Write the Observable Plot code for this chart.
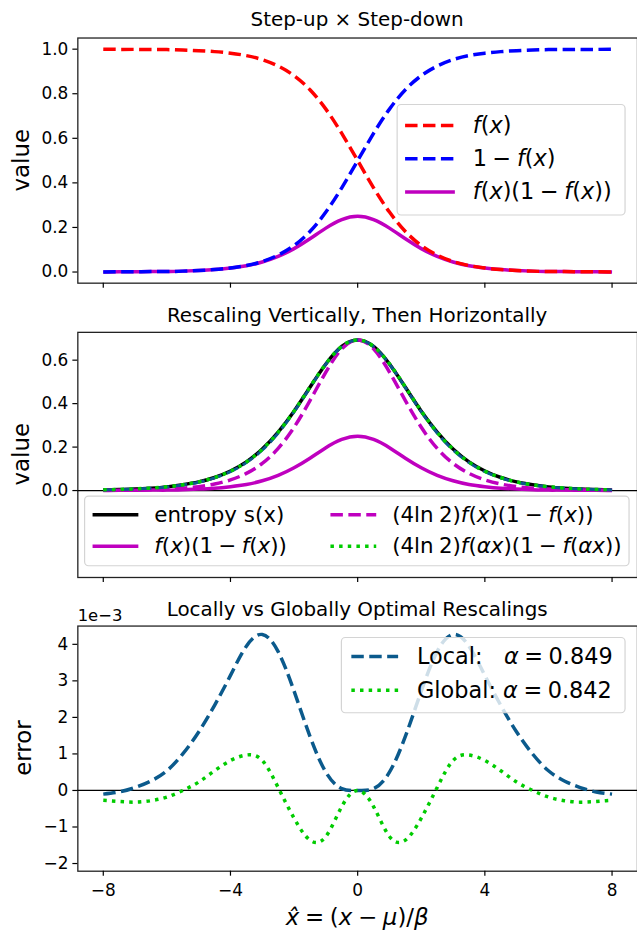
<!DOCTYPE html>
<html><head><meta charset="utf-8">
<script src="https://cdn.jsdelivr.net/npm/d3@7"></script>
<script src="https://cdn.jsdelivr.net/npm/@observablehq/plot@0.6"></script>
<style>
html,body{margin:0;padding:0;background:#fff;overflow:hidden;width:637px;height:938px;}
#chart{position:relative;width:637px;height:938px;overflow:hidden;}
#chart svg{display:block;}
</style></head><body><div id="chart"></div>
<script>
// ---------------- data ----------------
const xs = [-8, -7.5, -7, -6.5, -6, -5.5, -5, -4.5, -4, -3.5, -3, -2.5, -2, -1.5, -1, -0.5, 0,
            0.5, 1, 1.5, 2, 2.5, 3, 3.5, 4, 4.5, 5, 5.5, 6, 6.5, 7, 7.5, 8];
const xTicks = [-8, -4, 0, 4, 8];

// panel 1
const stepDown = [1.000, 0.999, 0.999, 0.998, 0.998, 0.996, 0.993, 0.989, 0.982, 0.971, 0.953, 0.924, 0.881, 0.818, 0.731, 0.622, 0.500,
                  0.378, 0.269, 0.182, 0.119, 0.076, 0.047, 0.029, 0.018, 0.011, 0.007, 0.004, 0.002, 0.002, 0.001, 0.001, 0.000];
const stepUp   = [0.000, 0.001, 0.001, 0.002, 0.002, 0.004, 0.007, 0.011, 0.018, 0.029, 0.047, 0.076, 0.119, 0.182, 0.269, 0.378, 0.500,
                  0.622, 0.731, 0.818, 0.881, 0.924, 0.953, 0.971, 0.982, 0.989, 0.993, 0.996, 0.998, 0.998, 0.999, 0.999, 1.000];
const product  = [0.000, 0.001, 0.001, 0.002, 0.002, 0.004, 0.007, 0.011, 0.018, 0.028, 0.045, 0.070, 0.105, 0.149, 0.197, 0.235, 0.250,
                  0.235, 0.197, 0.149, 0.105, 0.070, 0.045, 0.028, 0.018, 0.011, 0.007, 0.004, 0.002, 0.002, 0.001, 0.001, 0.000];
const y1Ticks = [0, 0.2, 0.4, 0.6, 0.8, 1.0];

// panel 2
const entropy  = [0.003, 0.005, 0.007, 0.011, 0.017, 0.027, 0.040, 0.060, 0.090, 0.132, 0.191, 0.269, 0.365, 0.475, 0.582, 0.663, 0.693,
                  0.663, 0.582, 0.475, 0.365, 0.269, 0.191, 0.132, 0.090, 0.060, 0.040, 0.027, 0.017, 0.011, 0.007, 0.005, 0.003];
const scaledProduct = [0.001, 0.002, 0.003, 0.004, 0.007, 0.011, 0.018, 0.030, 0.049, 0.079, 0.125, 0.194, 0.291, 0.414, 0.545, 0.652, 0.693,
                  0.652, 0.545, 0.414, 0.291, 0.194, 0.125, 0.079, 0.049, 0.030, 0.018, 0.011, 0.007, 0.004, 0.003, 0.002, 0.001];
const localApprox = [0.0031, 0.0047, 0.0072, 0.0110, 0.0168, 0.0255, 0.0386, 0.0582, 0.0870, 0.1285, 0.1867, 0.2648, 0.3626, 0.4737, 0.5818, 0.6628, 0.6931,
                  0.6628, 0.5818, 0.4737, 0.3626, 0.2648, 0.1867, 0.1285, 0.0870, 0.0582, 0.0386, 0.0255, 0.0168, 0.0110, 0.0072, 0.0047, 0.0031];
const globalApprox = [0.0033, 0.0050, 0.0076, 0.0115, 0.0175, 0.0265, 0.0400, 0.0600, 0.0893, 0.1314, 0.1901, 0.2684, 0.3661, 0.4765, 0.5835, 0.6633, 0.6931,
                  0.6633, 0.5835, 0.4765, 0.3661, 0.2684, 0.1901, 0.1314, 0.0893, 0.0600, 0.0400, 0.0265, 0.0175, 0.0115, 0.0076, 0.0050, 0.0033];
const y2Ticks = [0, 0.2, 0.4, 0.6];

// panel 3 (values in units of 1e-3)
const localErr  = [-0.10, -0.04, 0.08, 0.26, 0.54, 1.00, 1.60, 2.33, 3.15, 3.95, 4.27, 3.80, 2.72, 1.48, 0.50, 0.05, 0.00,
                   0.05, 0.50, 1.48, 2.72, 3.80, 4.27, 3.95, 3.15, 2.33, 1.60, 1.00, 0.54, 0.26, 0.08, -0.04, -0.10];
const globalErr = [-0.27, -0.30, -0.32, -0.28, -0.18, 0.00, 0.23, 0.54, 0.82, 0.97, 0.82, 0.08, -0.76, -1.36, -1.26, -0.44, 0.00,
                   -0.44, -1.26, -1.36, -0.76, 0.08, 0.82, 0.97, 0.82, 0.54, 0.23, 0.00, -0.18, -0.28, -0.32, -0.30, -0.27];
const y3Ticks = [-2, -1, 0, 1, 2, 3, 4];

// ---------------- styling ----------------
const FONT = "DejaVu Sans";
const RED = "#ff0000", BLUE = "#0000ff", MAGENTA = "#bf00bf", GREEN = "#00cc00", TEAL = "#0b5a8c";
const DASH = "12.5,5.5", DOT = "3.5,5.2";
const LW = 3.5;

const rows = xs.map((x, i) => ({
  x, stepDown: stepDown[i], stepUp: stepUp[i], product: product[i],
  entropy: entropy[i], scaledProduct: scaledProduct[i], localApprox: localApprox[i], globalApprox: globalApprox[i],
  localErr: localErr[i], globalErr: globalErr[i]
}));

const W = 640, ML = 77.7;
const common = {
  width: W, marginLeft: ML, marginRight: 0,
  x: {domain: [-8.8, 8.8]},
  style: {fontFamily: FONT, fontSize: "17px", color: "#000", background: "transparent", overflow: "visible"}
};
const frame = () => Plot.frame({stroke: "#222", strokeWidth: 1.3});
const axX = (labels) => Plot.axisX({ticks: xTicks, tickSize: 5, tickPadding: 8, strokeWidth: 1.2,
  tickFormat: labels ? d3.format("d") : () => "", label: null});
const axY = (ticks, fmt) => Plot.axisY({ticks, tickSize: 5, tickPadding: 4.5, strokeWidth: 1.2, tickFormat: fmt, label: null});
const ln = (y, stroke, dash, w = LW) => Plot.line(rows, {x: "x", y, stroke, strokeWidth: w, strokeDasharray: dash,
  strokeLinecap: "butt", strokeLinejoin: "round", curve: "natural"});

const p1 = Plot.plot({
  ...common, height: 300, marginTop: 37.7, marginBottom: 16,
  y: {domain: [-0.05, 1.05]},
  marks: [
    frame(), axX(false), axY(y1Ticks, d3.format(".1f")),
    ln("product", MAGENTA, null),
    ln("stepDown", RED, DASH),
    ln("stepUp", BLUE, DASH)
  ]
});
const p2 = Plot.plot({
  ...common, height: 300, marginTop: 33, marginBottom: 20.7,
  y: {domain: [-0.4, 0.728]},
  marks: [
    frame(), axX(false), axY(y2Ticks, d3.format(".1f")),
    Plot.ruleY([0], {stroke: "#000", strokeWidth: 1.3}),
    ln("entropy", "#000", null),
    ln("product", MAGENTA, null),
    ln("scaledProduct", MAGENTA, DASH),
    ln("localApprox", TEAL, DASH, 3),
    ln("globalApprox", GREEN, DOT)
  ]
});
const p3 = Plot.plot({
  ...common, height: 338, marginTop: 28.7, marginBottom: 63,
  y: {domain: [-2.21, 4.5]},
  marks: [
    frame(), axX(true), axY(y3Ticks, d3.format("d")),
    Plot.ruleY([0], {stroke: "#000", strokeWidth: 1.3}),
    ln("localErr", TEAL, DASH),
    ln("globalErr", GREEN, DOT)
  ]
});

const chart = document.getElementById("chart");
[p1, p2, p3].forEach(p => chart.appendChild(p));

// ---------------- text helpers ----------------
function mathText(sel, str) {
  str.split("*").forEach((seg, i) => {
    if (!seg) return;
    sel.append("tspan").attr("font-style", i % 2 ? "italic" : null).text(seg);
  });
  return sel;
}
const CX = (ML + W) / 2;
function title(svg, txt, y) {
  d3.select(svg).append("text").attr("x", CX).attr("y", y).attr("text-anchor", "middle")
    .attr("font-size", 20).attr("fill", "#000").text(txt);
}
function yLabel(svg, txt, x, cy) {
  d3.select(svg).append("text").attr("transform", `translate(${x},${cy}) rotate(-90)`)
    .attr("text-anchor", "middle").attr("font-size", 23).attr("fill", "#000").text(txt);
}
function legend(svg, box, items, fs) {
  const g = d3.select(svg).append("g");
  g.append("rect").attr("x", box.x).attr("y", box.y).attr("width", box.w).attr("height", box.h)
    .attr("rx", 4).attr("fill", "#fff").attr("fill-opacity", 0.8).attr("stroke", "#d4d4d4").attr("stroke-width", 1.2);
  items.forEach(it => {
    g.append("line").attr("x1", it.lx).attr("x2", it.lx + it.len).attr("y1", it.cy).attr("y2", it.cy)
      .attr("stroke", it.color).attr("stroke-width", LW).attr("stroke-dasharray", it.dash).attr("stroke-linecap", "butt");
    const t = g.append("text").attr("x", it.tx).attr("y", it.cy + fs * 0.33).attr("text-anchor", "start")
      .attr("font-size", fs).attr("fill", "#000").style("white-space", "pre");
    mathText(t, it.label);
  });
}
const S = "\u2005";

// panel 1
title(p1, "Step-up × Step-down", 26);
yLabel(p1, "value", 29, 161);
legend(p1, {x: 399, y: 105, w: 229, h: 111}, [
  {lx: 407, len: 50, tx: 475, cy: 126, color: RED, dash: DASH, label: "*f*(*x*)"},
  {lx: 407, len: 50, tx: 475, cy: 159.5, color: BLUE, dash: DASH, label: `1${S}−${S}*f*(*x*)`},
  {lx: 407, len: 50, tx: 475, cy: 193, color: MAGENTA, dash: null, label: `*f*(*x*)(1${S}−${S}*f*(*x*))`}
], 22.5);

// panel 2
title(p2, "Rescaling Vertically, Then Horizontally", 23.3);
yLabel(p2, "value", 29, 156);
legend(p2, {x: 85, y: 198, w: 547, h: 70}, [
  {lx: 93, len: 46, tx: 155, cy: 216.7, color: "#000", dash: null, label: "entropy s(x)"},
  {lx: 93, len: 46, tx: 155, cy: 248.3, color: MAGENTA, dash: null, label: `*f*(*x*)(1${S}−${S}*f*(*x*))`},
  {lx: 332, len: 46, tx: 394, cy: 216.7, color: MAGENTA, dash: DASH, label: `(4ln${S}2)*f*(*x*)(1${S}−${S}*f*(*x*))`},
  {lx: 332, len: 46, tx: 394, cy: 248.3, color: GREEN, dash: DOT, label: `(4ln${S}2)*f*(*αx*)(1${S}−${S}*f*(*αx*))`}
], 21.5);

// panel 3
title(p3, "Locally vs Globally Optimal Rescalings", 19.3);
d3.select(p3).append("text").attr("x", 78).attr("y", 24).attr("text-anchor", "start")
  .attr("font-size", 16.5).attr("fill", "#000").text("1e−3");
yLabel(p3, "error", 31.5, 151.8);
legend(p3, {x: 343, y: 40.7, w: 285, h: 75.6}, [
  {lx: 353, len: 47, tx: 419, cy: 59.7, color: TEAL, dash: DASH, label: `Local:   *α*${S}=${S}0.849`},
  {lx: 353, len: 47, tx: 419, cy: 93.7, color: GREEN, dash: DOT, label: `Global: *α*${S}=${S}0.842`}
], 22.5);
mathText(d3.select(p3).append("text").attr("x", CX).attr("y", 330).attr("text-anchor", "middle")
  .attr("font-size", 23).attr("fill", "#000"), `*x\u0302*${S}=${S}(*x*${S}−${S}*μ*)/*β*`);
</script></body></html>
